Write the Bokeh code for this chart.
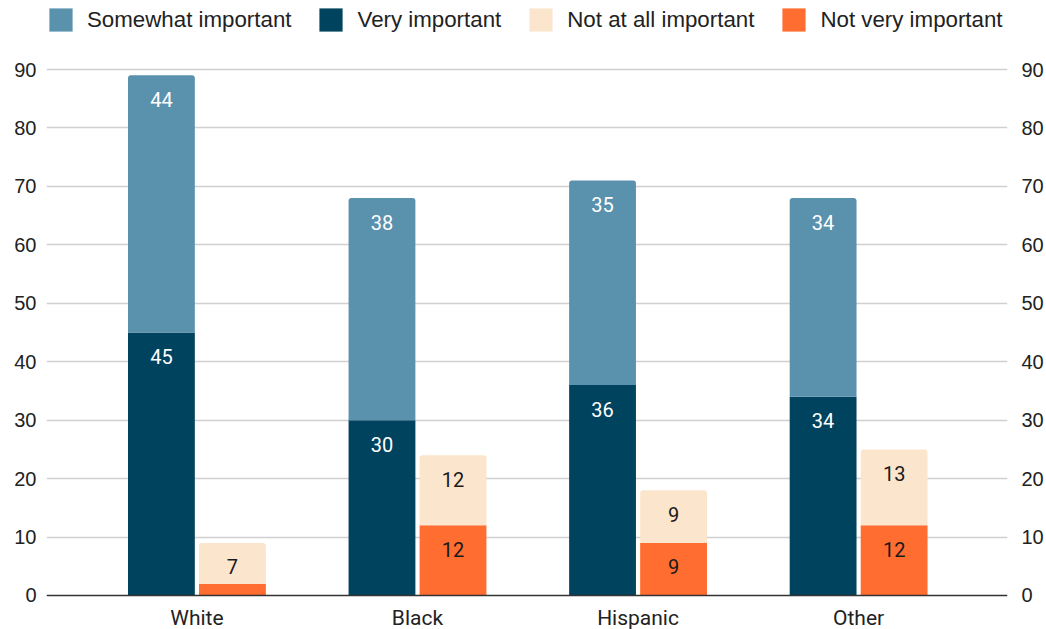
from bokeh.plotting import figure
from bokeh.models import ColumnDataSource, FixedTicker, LinearAxis, Range1d, Legend, LegendItem, Span
from bokeh.transform import dodge
from bokeh.core.properties import value
from bokeh.embed import file_html
from bokeh.resources import INLINE

categories = ["White", "Black", "Hispanic", "Other"]
very_important = [45, 30, 36, 34]
somewhat_important = [44, 38, 35, 34]
not_very_important = [2, 12, 9, 12]
not_at_all_important = [7, 12, 9, 13]
y_ticks = [0, 10, 20, 30, 40, 50, 60, 70, 80, 90]

C_SOME = "#5a91ad"
C_VERY = "#00435e"
C_NOTALL = "#fce5cd"
C_NOTVERY = "#ff6d31"

xs = list(range(len(categories)))
some_top = [a + b for a, b in zip(very_important, somewhat_important)]
notall_top = [a + b for a, b in zip(not_very_important, not_at_all_important)]

src = ColumnDataSource(dict(
    x=xs,
    zero=[0] * len(xs),
    very_top=very_important,
    some_top=some_top,
    notvery_top=not_very_important,
    notall_top=notall_top,
    cat=categories,
))

H = 629
p = figure(width=1046, height=H, output_backend="svg", toolbar_location=None,
           x_range=Range1d(-0.682, 3.675), y_range=Range1d(-5.818, 101.81),
           x_axis_location=None,
           min_border_left=46, min_border_right=38, min_border_top=0, min_border_bottom=0)
p.outline_line_color = None
p.background_fill_color = "white"
p.border_fill_color = "white"

OFF = 0.161
W = 0.303

r_very = p.vbar(x=dodge("x", -OFF, range=p.x_range), width=W, bottom="zero", top="very_top",
                source=src, fill_color=C_VERY, line_color=None)
r_some = p.vbar(x=dodge("x", -OFF, range=p.x_range), width=W, bottom="very_top", top="some_top",
                source=src, fill_color=C_SOME, line_color=None, border_radius=(3, 3, 0, 0))
r_notvery = p.vbar(x=dodge("x", OFF, range=p.x_range), width=W, bottom="zero", top="notvery_top",
                   source=src, fill_color=C_NOTVERY, line_color=None)
r_notall = p.vbar(x=dodge("x", OFF, range=p.x_range), width=W, bottom="notvery_top", top="notall_top",
                  source=src, fill_color=C_NOTALL, line_color=None, border_radius=(3, 3, 0, 0))


def labels(vals, tops, offset, color):
    keep = [i for i, v in enumerate(vals) if v >= 5]
    s = ColumnDataSource(dict(x=[xs[i] for i in keep], y=[tops[i] for i in keep],
                              t=[str(vals[i]) for i in keep]))
    p.text(x=dodge("x", offset, range=p.x_range), y="y", text="t", source=s,
           text_align="center", text_baseline="middle", y_offset=24,
           text_font=value("Roboto"), text_font_size="20px", text_color=color)


labels(very_important, very_important, -OFF, "#ffffff")
labels(somewhat_important, some_top, -OFF, "#ffffff")
labels(not_very_important, not_very_important, OFF, "#1a1a1a")
labels(not_at_all_important, notall_top, OFF, "#1a1a1a")

# baseline (x axis line) and category labels
p.add_layout(Span(location=0, dimension="width", line_color="#333333", line_width=1.5))
p.text(x="x", y="zero", text="cat", source=src, text_align="center", text_baseline="middle",
       y_offset=23, text_font=value("Roboto"), text_font_size="21px", text_color="#222222")

p.xgrid.grid_line_color = None

p.yaxis.ticker = FixedTicker(ticks=y_ticks)
p.yaxis.axis_line_color = None
p.yaxis.major_tick_line_color = None
p.yaxis.minor_tick_line_color = None
p.yaxis.major_tick_out = 0
p.yaxis.major_tick_in = 0
p.yaxis.minor_tick_out = 0
p.yaxis.major_label_standoff = 10
p.yaxis.major_label_text_font = "Liberation Sans"
p.yaxis.major_label_text_font_size = "20px"
p.yaxis.major_label_text_color = "#222222"
p.ygrid.ticker = FixedTicker(ticks=y_ticks[1:])
p.ygrid.grid_line_color = "#d0d0d0"
p.ygrid.grid_line_width = 1.5

ra = LinearAxis(ticker=FixedTicker(ticks=y_ticks))
ra.axis_line_color = None
ra.major_tick_line_color = None
ra.minor_tick_line_color = None
ra.major_tick_out = 0
ra.major_tick_in = 0
ra.minor_tick_out = 0
ra.major_label_standoff = 14
ra.major_label_text_font = "Liberation Sans"
ra.major_label_text_font_size = "20px"
ra.major_label_text_color = "#222222"
p.add_layout(ra, "right")

legend = Legend(items=[
    LegendItem(label="Somewhat important", renderers=[r_some]),
    LegendItem(label="Very important", renderers=[r_very]),
    LegendItem(label="Not at all important", renderers=[r_notall]),
    LegendItem(label="Not very important", renderers=[r_notvery]),
], orientation="horizontal", location=(0, H - 34), border_line_color=None,
    background_fill_alpha=0, padding=0, margin=0, spacing=25, label_standoff=12,
    glyph_width=29, glyph_height=29, label_height=29,
    label_text_font="Liberation Sans", label_text_font_size="22.3px", label_text_color="#222222")
p.add_layout(legend)

open("out.html", "w").write(file_html(p, INLINE))
